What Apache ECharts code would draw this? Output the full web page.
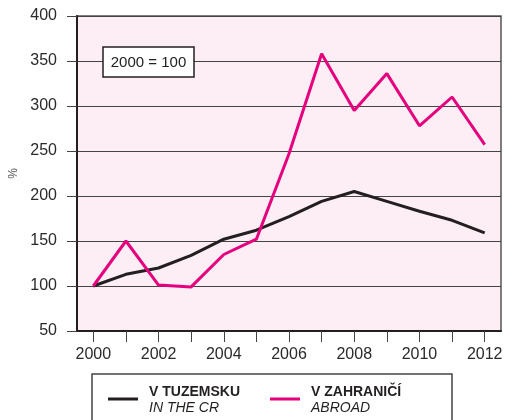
<!DOCTYPE html>
<html><head><meta charset="utf-8">
<script src="https://cdn.jsdelivr.net/npm/echarts@6/dist/echarts.min.js"></script>
<style>html,body{margin:0;padding:0;background:#fff}#c{width:505px;height:420px}</style>
</head><body><div id="c"></div>
<script>
const years = ['2000','2001','2002','2003','2004','2005','2006','2007','2008','2009','2010','2011','2012'];
const domestic = [100,113,120,134,152,162,177,194,205,194,183,173,159];
const abroad = [100,150,101,99,135,152,247,358,295,336,278,310,257];
const yTicks = [50,100,150,200,250,300,350,400];
const seriesNames = ['V TUZEMSKU','V ZAHRANIČÍ'];
const seriesSub = ['IN THE CR','ABROAD'];
const noteText = '2000 = 100';

const FONT = '"Liberation Sans", Arial, sans-serif';
const chart = echarts.init(document.getElementById('c'), null, {renderer:'canvas'});
chart.setOption({
  animation:false,
  grid:{left:77,right:4,top:16,bottom:89,outerBoundsMode:'none',containLabel:false,show:true,backgroundColor:'#fdedf4',borderColor:'#555',borderWidth:1.5},
  xAxis:{type:'category',data:years,boundaryGap:true,
    axisLine:{lineStyle:{color:'#231f20',width:2}},
    axisTick:{show:true,interval:0,alignWithLabel:true,length:11,lineStyle:{color:'#444',width:1}},
    axisLabel:{interval:1,color:'#2a2a2a',fontFamily:FONT,fontSize:16,margin:16},
    splitLine:{show:false}},
  yAxis:{type:'value',min:yTicks[0],max:yTicks[yTicks.length-1],interval:50,
    name:'%',nameLocation:'middle',nameGap:56,nameRotate:90,
    nameTextStyle:{color:'#555',fontFamily:FONT,fontSize:12},
    axisLine:{show:true,lineStyle:{color:'#231f20',width:2}},
    axisTick:{show:true,length:10,lineStyle:{color:'#444',width:1}},
    axisLabel:{color:'#2a2a2a',fontFamily:FONT,fontSize:16,margin:20},
    splitLine:{show:true,lineStyle:{color:'#444',width:1}}},
  series:[
    {name:seriesNames[0],type:'line',data:domestic,symbol:'none',lineStyle:{color:'#231f20',width:3},z:3},
    {name:seriesNames[1],type:'line',data:abroad,symbol:'none',lineStyle:{color:'#e5007d',width:3},z:4}
  ],
  graphic:[
    {type:'rect',shape:{x:103,y:47,width:91,height:30},style:{fill:'#fff',stroke:'#231f20',lineWidth:1.5},z:10},
    {type:'text',style:{x:148.5,y:62.5,text:noteText,align:'center',verticalAlign:'middle',fill:'#222',font:'15px '+FONT},z:11},
    {type:'rect',shape:{x:92,y:374,width:360,height:60},style:{fill:'#fff',stroke:'#444',lineWidth:1.5},z:10},
    {type:'line',shape:{x1:108,y1:399,x2:138,y2:399},style:{stroke:'#231f20',lineWidth:3},z:11},
    {type:'text',style:{x:149,y:392,text:seriesNames[0],fill:'#231f20',font:'bold 14px '+FONT,verticalAlign:'middle'},z:11},
    {type:'text',style:{x:149,y:408,text:seriesSub[0],fill:'#231f20',font:'italic 14px '+FONT,verticalAlign:'middle'},z:11},
    {type:'line',shape:{x1:270,y1:399,x2:300,y2:399},style:{stroke:'#e5007d',lineWidth:3},z:11},
    {type:'text',style:{x:311,y:392,text:seriesNames[1],fill:'#231f20',font:'bold 14px '+FONT,verticalAlign:'middle'},z:11},
    {type:'text',style:{x:311,y:408,text:seriesSub[1],fill:'#231f20',font:'italic 14px '+FONT,verticalAlign:'middle'},z:11}
  ]
});
</script></body></html>
